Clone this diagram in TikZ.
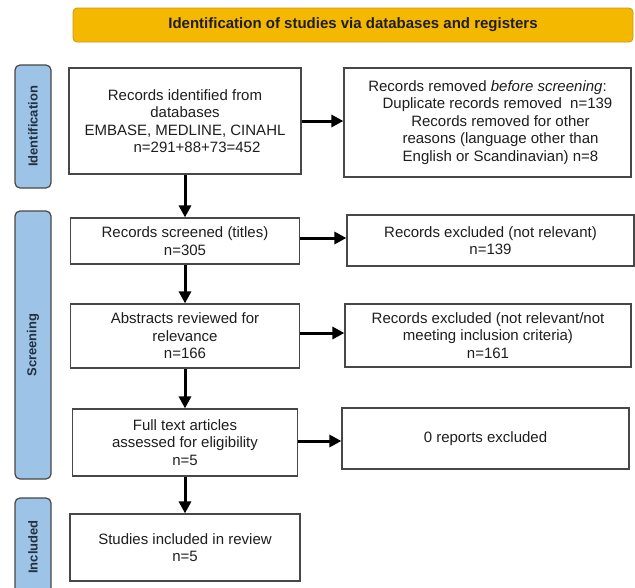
\documentclass[tikz,border=0pt]{standalone}
\usepackage{fontspec}
\setmainfont{Liberation Sans}
\usetikzlibrary{arrows.meta}
\definecolor{ink}{HTML}{1E1E1E}
\definecolor{edge}{HTML}{474747}
\definecolor{gold}{HTML}{F5B800}
\definecolor{goldd}{HTML}{C8980C}
\definecolor{sky}{HTML}{9DC3E6}
\definecolor{skyt}{HTML}{22303F}
\tikzset{box/.style={draw=edge, line width=1.2pt, fill=white, text=ink, align=center, inner sep=0pt, font=\fontsize{15}{17.5}\selectfont},
  pill/.style={draw=edge, line width=1.2pt, fill=sky, rounded corners=5pt, text=skyt, rotate=90, minimum height=36pt, inner sep=0pt, font=\bfseries\fontsize{13}{15}\selectfont},
  banner/.style={draw=goldd, line width=0.8pt, fill=gold, rounded corners=4pt, text=ink, minimum width=560pt, minimum height=34pt, font=\bfseries\fontsize{15}{17}\selectfont},
  arr/.style={-{Triangle[length=12pt,width=12pt]}, line width=3pt, black}}

\begin{document}
\begin{tikzpicture}[x=1pt, y=-1pt]
  \useasboundingbox (0,0) rectangle (635,587);
  \node[banner] (head) at (353,25) {Identification of studies via databases and registers};
  \node[pill, minimum width=123pt] (pid) at (33,126.5) {Identification};
  \node[pill, minimum width=268pt] (psc) at (33,345) {Screening};
  \node[pill, minimum width=98pt] (pin) at (33,547) {Included};
  \node[box, minimum width=232pt, minimum height=106pt] (idf) at (185,121) {Records identified from\\databases\\EMBASE, MEDLINE, CINAHL\\\hspace*{24pt}n=291+88+73=452};
  \node[box, minimum width=287pt, minimum height=109pt] (rem) at (487.5,122.5) {Records removed \textit{before screening}:\\\hspace*{20pt}Duplicate records removed\ \ n=139\\\hspace*{26pt}Records removed for other\\\hspace*{26pt}reasons (language other than\\\hspace*{26pt}English or Scandinavian) n=8};
  \node[box, minimum width=229pt, minimum height=46pt] (scr) at (185,241) {Records screened (titles)\\n=305};
  \node[box, minimum width=287pt, minimum height=51pt] (exa) at (490.5,240.5) {Records excluded (not relevant)\\n=139};
  \node[box, minimum width=229pt, minimum height=64pt] (abs) at (185,336) {Abstracts reviewed for\\relevance\\n=166};
  \node[box, minimum width=286pt, minimum height=63pt] (exb) at (488,335.5) {Records excluded (not relevant/not\\meeting inclusion criteria)\\n=161};
  \node[box, minimum width=225pt, minimum height=67pt] (ful) at (185,442.5) {Full text articles\\assessed for eligibility\\n=5};
  \node[box, minimum width=287pt, minimum height=61pt] (exc) at (485.5,438.5) {0 reports excluded};
  \node[box, minimum width=230pt, minimum height=67pt] (inc) at (185,547.5) {Studies included in review\\n=5};
  \draw[arr] (idf) -- (scr);
  \draw[arr] (scr) -- (abs);
  \draw[arr] (abs) -- (ful);
  \draw[arr] (ful) -- (inc);
  \draw[arr] (idf.east) -- (idf.east -| rem.west);
  \draw[arr] ([yshift=3pt]scr.east) -- ([yshift=3pt]scr.east -| exa.west);
  \draw[arr] ([yshift=3pt]abs.east) -- ([yshift=3pt]abs.east -| exb.west);
  \draw[arr] ([yshift=1.5pt]ful.east) -- ([yshift=1.5pt]ful.east -| exc.west);
\end{tikzpicture}
\end{document}
